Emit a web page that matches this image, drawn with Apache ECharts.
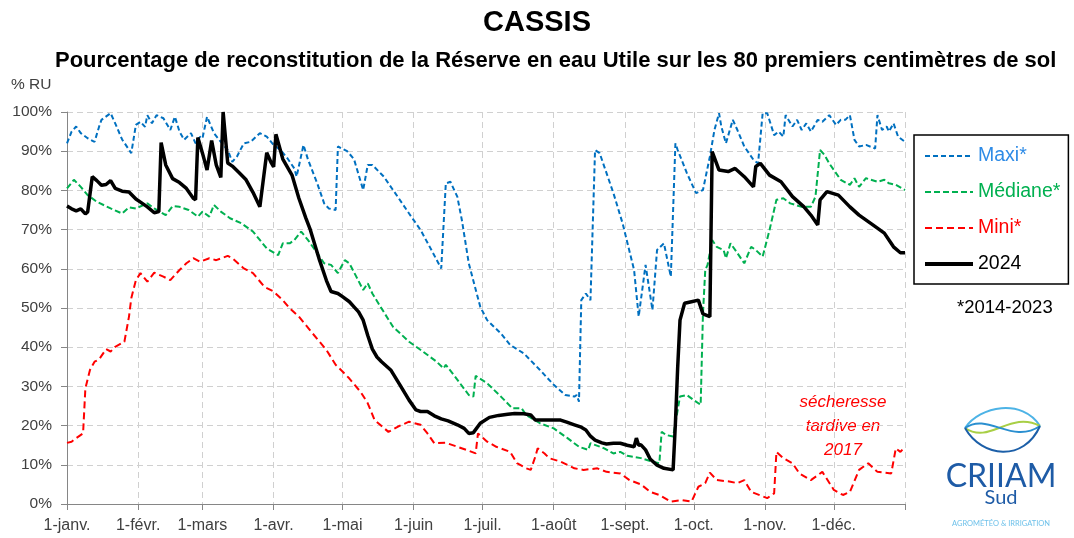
<!DOCTYPE html>
<html><head><meta charset="utf-8">
<script src="https://cdn.jsdelivr.net/npm/echarts@6/dist/echarts.min.js"></script>
<style>html,body{margin:0;padding:0;background:#fff}#c{width:1074px;height:538px}</style>
</head><body><div id="c"></div>
<script>
// ---- data (day of year index 0 = 1 Jan, value = % RU) ----
const monthLabels = ['1-janv.','1-févr.','1-mars','1-avr.','1-mai','1-juin','1-juil.','1-août','1-sept.','1-oct.','1-nov.','1-déc.'];
const monthStartDays = [0,31,59,90,120,151,181,212,243,273,304,334];
const yearEndDay = 365;

const maxi = [[0,92.0],[2,95.0],[4,96.3],[6,94.6],[9,93.3],[12,92.4],[14,96.3],[15,98.0],[19,99.7],[21,97.1],[24,93.0],[28,89.5],[30,96.7],[32,97.5],[34,96.2],[35,99.2],[37,97.1],[39,99.2],[42,98.4],[45,95.4],[47,98.8],[49,95.0],[51,92.9],[54,94.6],[56,92.0],[58,93.7],[59,93.3],[61,98.8],[64,94.6],[67,92.4],[70,90.3],[72,87.3],[74,88.6],[77,92.0],[80,92.4],[84,94.6],[87,93.7],[90,91.6],[93,90.3],[96,88.2],[99,85.6],[100,83.5],[103,91.6],[105,87.8],[109,81.8],[112,76.7],[114,75.4],[117,75.0],[118,91.2],[122,90.0],[125,88.0],[126,86.0],[129,80.1],[131,86.5],[133,86.5],[138,83.5],[144,78.4],[149,74.1],[154,69.9],[158,65.6],[163,60.1],[165,81.8],[167,82.2],[170,78.4],[172,72.4],[175,61.4],[180,50.3],[183,46.9],[189,43.5],[193,40.6],[199,38.4],[206,34.2],[212,30.4],[217,27.8],[221,27.4],[222,27.8],[223,26.1],[224,52.0],[226,53.7],[228,52.0],[230,90.3],[232,89.5],[238,79.3],[242,71.6],[247,59.7],[249,47.8],[252,61.0],[255,49.5],[257,64.8],[260,66.5],[263,58.0],[265,92.0],[266,90.3],[270,84.4],[274,79.3],[277,80.1],[280,88.6],[282,95.4],[284,99.7],[285,96.3],[287,92.0],[290,98.0],[292,95.4],[295,91.2],[299,87.8],[301,86.9],[303,99.7],[305,99.7],[308,94.1],[310,95.0],[312,93.7],[313,99.2],[316,96.3],[318,98.0],[320,95.4],[322,97.1],[324,95.0],[327,98.0],[329,97.5],[332,99.2],[335,96.7],[337,98.0],[339,98.0],[341,99.2],[343,92.9],[345,91.2],[348,91.6],[352,90.7],[353,99.2],[355,95.4],[357,96.3],[358,95.0],[360,97.1],[362,93.7],[365,92.4]];

const mediane = [[0,80.5],[3,82.7],[6,80.9],[9,78.8],[13,77.1],[19,75.4],[24,74.1],[27,75.7],[30,75.4],[35,76.7],[38,75.4],[43,73.7],[46,76.0],[49,75.8],[53,75.0],[57,73.3],[59,74.6],[62,73.3],[64,76.3],[67,74.6],[71,72.9],[76,71.6],[81,69.5],[87,65.2],[92,63.5],[94,66.5],[97,66.5],[99,67.3],[102,69.5],[105,67.3],[109,64.0],[112,61.4],[115,61.0],[118,58.9],[121,62.2],[123,61.4],[126,58.0],[129,54.6],[131,56.3],[133,53.7],[137,49.9],[142,45.2],[149,41.4],[155,38.9],[161,36.3],[164,34.6],[165,35.5],[169,32.5],[175,27.8],[177,27.4],[178,32.7],[183,30.8],[189,27.4],[194,24.4],[198,24.4],[200,22.7],[206,20.6],[212,19.3],[218,16.8],[223,14.6],[227,13.8],[228,15.5],[234,14.2],[238,12.9],[241,13.3],[244,12.3],[250,11.7],[255,10.8],[258,10.4],[259,18.4],[261,17.6],[264,17.2],[267,27.4],[270,27.8],[273,26.5],[276,25.3],[277,48.6],[278,59.7],[279,61.0],[281,67.3],[283,65.6],[286,64.8],[287,62.7],[289,66.5],[292,64.0],[295,61.4],[298,65.6],[300,64.8],[303,63.1],[306,69.9],[309,77.6],[312,78.0],[315,76.7],[320,75.8],[324,75.8],[326,78.4],[328,90.3],[330,89.0],[332,86.9],[337,82.7],[341,81.4],[343,83.1],[345,80.9],[348,83.1],[353,82.2],[356,82.7],[358,81.8],[361,81.4],[365,80.1]];

const mini = [[0,15.6],[2,15.9],[4,16.8],[7,18.0],[8,29.5],[10,34.2],[12,36.3],[14,36.9],[17,39.5],[19,38.9],[21,40.1],[25,41.4],[27,47.8],[28,52.5],[30,57.1],[32,58.9],[35,56.7],[38,59.0],[42,58.0],[45,57.1],[49,59.7],[52,61.4],[55,62.7],[58,61.8],[62,62.7],[65,62.2],[70,63.3],[72,62.7],[77,60.1],[81,58.9],[86,55.4],[90,54.2],[94,52.0],[97,49.9],[101,47.8],[107,43.5],[113,39.3],[117,35.5],[120,33.8],[123,32.0],[128,28.5],[131,25.7],[134,21.4],[140,18.4],[144,19.7],[149,21.0],[154,20.2],[157,18.0],[160,15.5],[165,15.6],[170,14.6],[174,13.8],[178,12.9],[179,18.0],[183,15.9],[187,14.6],[193,13.3],[196,10.4],[200,9.1],[202,8.7],[204,12.1],[205,14.2],[208,12.9],[210,11.7],[215,10.8],[221,9.1],[225,8.7],[231,9.1],[235,8.2],[241,7.8],[245,6.1],[250,5.0],[254,3.1],[258,2.3],[263,0.6],[268,1.0],[272,0.6],[275,4.4],[278,5.3],[280,8.0],[283,6.1],[289,5.7],[292,5.3],[295,6.1],[298,3.1],[305,1.5],[308,2.7],[309,13.3],[312,11.7],[316,10.4],[319,7.8],[324,6.1],[329,8.2],[334,3.6],[338,2.3],[341,3.1],[345,8.7],[349,10.4],[353,8.2],[359,7.8],[361,14.2],[363,13.3],[365,14.6]];

const y2024 = [[0,76.0],[2,75.3],[4,74.8],[6,75.3],[8,74.0],[9,74.5],[11,83.5],[13,82.5],[15,81.3],[17,81.5],[19,82.5],[21,80.5],[24,79.8],[27,79.6],[30,77.8],[32,77.0],[35,75.8],[38,74.3],[40,74.6],[41,92.2],[43,86.5],[46,83.0],[49,82.0],[52,80.5],[55,78.0],[56,77.6],[57,93.5],[59,89.5],[61,85.2],[63,92.7],[65,86.5],[67,83.3],[68,100],[70,87.0],[72,86.2],[75,84.5],[78,82.7],[81,79.5],[84,75.8],[87,89.6],[89,87.0],[90,86.0],[91,94.3],[94,88.0],[98,83.9],[101,78.0],[104,73.0],[106,69.9],[110,62.2],[113,57.0],[115,54.2],[118,53.7],[120,52.9],[123,51.6],[125,50.3],[127,49.0],[129,46.9],[131,43.0],[133,39.5],[135,37.5],[137,36.3],[141,34.2],[145,30.4],[149,26.5],[152,24.0],[154,23.6],[157,23.6],[160,22.5],[163,21.7],[166,21.2],[170,20.2],[173,19.3],[175,18.0],[177,18.2],[180,20.6],[184,22.1],[188,22.6],[192,22.9],[195,23.1],[199,23.0],[202,22.7],[204,21.4],[208,21.4],[215,21.4],[218,20.8],[221,20.2],[224,19.6],[226,18.9],[228,17.3],[230,16.3],[233,15.6],[235,15.3],[238,15.5],[241,15.5],[244,15.0],[247,14.6],[248,16.8],[249,15.0],[250,15.1],[252,13.8],[254,11.5],[257,9.9],[260,9.1],[264,8.7],[265,20.6],[266,35.0],[267,46.9],[269,51.2],[272,51.6],[275,52.0],[277,48.5],[280,47.8],[281,89.9],[284,85.2],[286,85.0],[288,84.8],[291,85.6],[295,83.5],[299,80.9],[300,86.1],[302,86.9],[306,83.9],[311,82.2],[316,78.4],[321,75.8],[324,73.7],[327,71.2],[328,77.6],[331,79.7],[336,78.8],[341,75.8],[345,73.7],[351,71.2],[356,69.1],[360,65.6],[363,64.1],[365,64.1]];

const seriesNames = ['Maxi*','Médiane*','Mini*','2024'];
const seriesColors = ['#0070C0','#00B050','#FF0000','#000000'];
const legendTextColors = ['#2E8BE6','#00B050','#FF0000','#000000'];

// ---- chart ----
const days = Array.from({length: yearEndDay + 1}, (_, i) => String(i));
const tickDays = monthStartDays.concat([yearEndDay]);
const FONT = 'Liberation Sans';
const chart = echarts.init(document.getElementById('c'), null, {renderer: 'canvas'});

const dashStyles = [[5, 3], [6, 3], [7, 4]];
const dashed = (k, data) => ({
  name: seriesNames[k], type: 'line', data, symbol: 'none', smooth: false,
  lineStyle: {color: seriesColors[k], width: 2, type: dashStyles[k]}, itemStyle: {color: seriesColors[k]}
});

const option = {
  animation: false,
  backgroundColor: '#fff',
  textStyle: {fontFamily: FONT},
  title: [
    {text: 'CASSIS', left: 'center', top: 3, textStyle: {fontSize: 29, fontWeight: 'bold', color: '#000', fontFamily: FONT}},
    {text: 'Pourcentage de reconstitution de la Réserve en eau Utile sur les 80 premiers centimètres de sol', left: 50, top: 45, textStyle: {fontSize: 22, fontWeight: 'bold', color: '#000', fontFamily: FONT}}
  ],
  grid: {left: 67, right: 169, top: 112, bottom: 34},
  xAxis: {
    type: 'category', data: days, boundaryGap: false,
    axisLine: {lineStyle: {color: '#868686', width: 1}},
    axisTick: {show: true, length: 6, interval: (i) => tickDays.includes(i), lineStyle: {color: '#868686'}},
    axisLabel: {
      interval: (i) => monthStartDays.includes(i),
      formatter: (v) => { const k = monthStartDays.indexOf(Number(v)); return k >= 0 ? monthLabels[k] : ''; },
      fontSize: 16, color: '#404040', margin: 14, fontFamily: FONT
    },
    splitLine: {show: true, interval: (i) => tickDays.includes(i), lineStyle: {color: '#D0D0D0', type: [6, 4], width: 1}}
  },
  yAxis: {
    type: 'value', min: 0, max: 100, interval: 10,
    axisLine: {show: true, lineStyle: {color: '#868686', width: 1}},
    axisTick: {show: true, length: 6, lineStyle: {color: '#868686'}},
    axisLabel: {formatter: '{value}%', fontSize: 15.5, color: '#404040', margin: 15, fontFamily: FONT},
    splitLine: {show: true, lineStyle: {color: '#D0D0D0', type: [6, 4], width: 1}}
  },
  legend: {
    orient: 'vertical', left: 914, top: 135,
    padding: [11, 8, 10, 9], itemGap: 16, itemWidth: 48, itemHeight: 14,
    borderColor: '#000', borderWidth: 1.5, backgroundColor: '#fff',
    itemStyle: {opacity: 0},
    data: seriesNames.map((n, i) => ({
      name: n,
      lineStyle: {width: i === 3 ? 4 : 2},
      textStyle: {color: legendTextColors[i], fontSize: 19.5, fontFamily: FONT}
    }))
  },
  series: [
    dashed(0, maxi),
    dashed(1, mediane),
    dashed(2, mini),
    {name: seriesNames[3], type: 'line', data: y2024, symbol: 'none', smooth: false,
     lineStyle: {color: '#000', width: 3.5}, itemStyle: {color: '#000'}}
  ],
  graphic: [
    {type: 'text', left: 11, top: 77, style: {text: '% RU', fontSize: 15.5, fill: '#404040', fontFamily: FONT}},
    {type: 'text', left: 957, top: 298, style: {text: '*2014-2023', fontSize: 18.5, fill: '#000', fontFamily: FONT}},
    {type: 'text', x: 843, y: 426, style: {text: 'sécheresse\ntardive en\n2017', fontSize: 17, fontStyle: 'italic', fill: '#FF0000', fontFamily: FONT, align: 'center', verticalAlign: 'middle', lineHeight: 24}},
    // logo CRIIAM Sud
    {type: 'bezierCurve', shape: {x1: 965, y1: 428, x2: 1040, y2: 426, cpx1: 980, cpy1: 406, cpx2: 1022, cpy2: 398}, style: {stroke: '#4DB3E6', lineWidth: 2, fill: null}},
    {type: 'bezierCurve', shape: {x1: 965, y1: 428, x2: 1040, y2: 426, cpx1: 990, cpy1: 445, cpx2: 1010, cpy2: 410}, style: {stroke: '#A8CF45', lineWidth: 2, fill: null}},
    {type: 'bezierCurve', shape: {x1: 965, y1: 428, x2: 1040, y2: 426, cpx1: 988, cpy1: 412, cpx2: 1012, cpy2: 445}, style: {stroke: '#2A8FD0', lineWidth: 2, fill: null}},
    {type: 'bezierCurve', shape: {x1: 965, y1: 428, x2: 1040, y2: 426, cpx1: 982, cpy1: 458, cpx2: 1024, cpy2: 462}, style: {stroke: '#1C5FA8', lineWidth: 2, fill: null}},
    {type: 'text', x: 1001, y: 477, style: {text: 'CRIIAM', fontSize: 32, fill: '#1E5BA6', fontFamily: 'Lato', align: 'center', verticalAlign: 'middle'}},
    {type: 'text', x: 1001, y: 498, style: {text: 'Sud', fontSize: 20, fill: '#1E5BA6', fontFamily: 'Lato', align: 'center', verticalAlign: 'middle'}},
    {type: 'text', x: 1001, y: 524, style: {text: 'AGROMÉTÉO & IRRIGATION', fontSize: 7.5, fill: '#6EC1EA', fontFamily: 'Lato', align: 'center', verticalAlign: 'middle'}}
  ]
};
chart.setOption(option);
</script>
</body></html>
